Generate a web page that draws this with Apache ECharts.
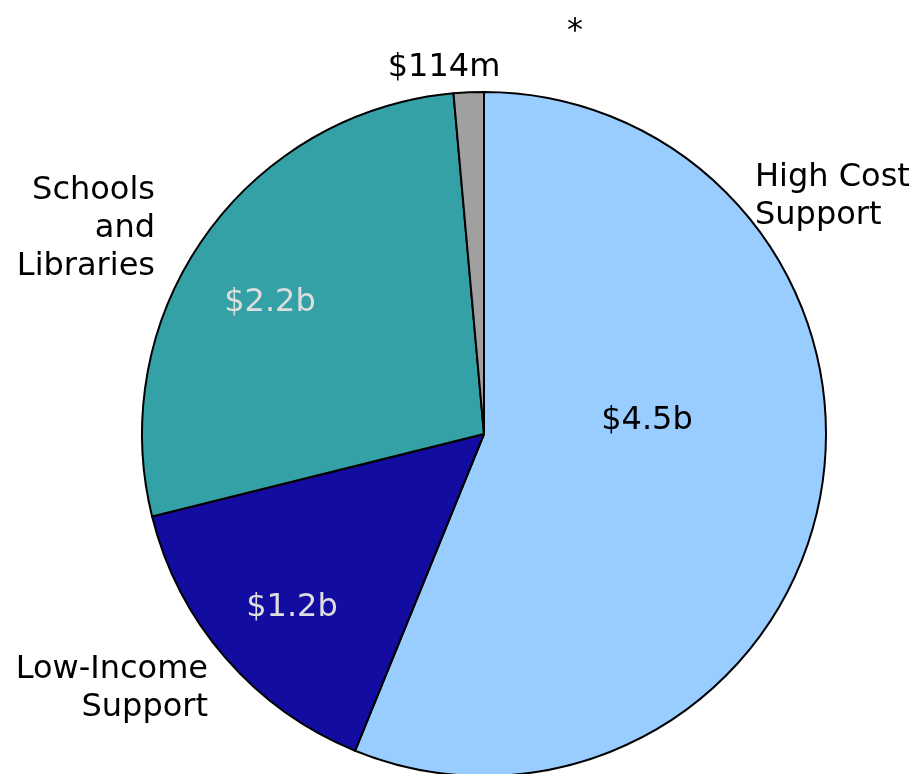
<!DOCTYPE html>
<html>
<head>
<meta charset="utf-8">
<script src="https://cdn.jsdelivr.net/npm/echarts@6/dist/echarts.min.js"></script>
<style>html,body{margin:0;padding:0;background:#fff}#c{width:914px;height:774px}</style>
</head>
<body>
<div id="c"></div>
<script>
const categories = ['High Cost\nSupport', 'Low-Income\nSupport', 'Schools\nand\nLibraries', '*'];
const values = [4.5, 1.2, 2.2, 0.114];
const valueLabels = ['$4.5b', '$1.2b', '$2.2b', '$114m'];
const colors = ['#99CCFF', '#120CA0', '#33A1A5', '#A0A0A0'];
const valueLabelColors = ['#000000', '#DDDDDD', '#DDDDDD', '#000000'];

// label placement (layout only)
const valuePos = [[647, 421, 'center'], [292, 608, 'center'], [270, 303, 'center'], [444, 68, 'center']];
const namePos = [[755, 197, 'left'], [208, 689, 'right'], [155, 229, 'right'], [575, 32, 'center']];

const FONT = 'DejaVu Sans';
const FS = 32;

const chart = echarts.init(document.getElementById('c'), null, {renderer: 'canvas'});
chart.setOption({
  backgroundColor: '#ffffff',
  animation: false,
  series: [
    {
      type: 'pie',
      center: [484, 434],
      radius: 342,
      startAngle: 90,
      clockwise: true,
      silent: true,
      data: categories.map((c, i) => ({
        name: c, value: values[i],
        itemStyle: {color: colors[i]},
        label: {color: valueLabelColors[i]}
      })),
      itemStyle: {borderColor: '#000', borderWidth: 2},
      label: {
        show: true, position: 'inside', overflow: 'none',
        formatter: p => valueLabels[p.dataIndex],
        fontFamily: FONT, fontSize: FS
      },
      labelLine: {show: false},
      labelLayout: p => ({x: valuePos[p.dataIndex][0], y: valuePos[p.dataIndex][1], align: valuePos[p.dataIndex][2], verticalAlign: 'middle'})
    },
    {
      type: 'pie',
      center: [484, 434],
      radius: 342,
      startAngle: 90,
      clockwise: true,
      silent: true,
      data: categories.map((c, i) => ({name: c, value: values[i]})),
      itemStyle: {color: 'rgba(0,0,0,0)', borderWidth: 0},
      label: {
        show: true, position: 'outside', overflow: 'none', width: 400,
        formatter: p => p.name,
        fontFamily: FONT, fontSize: FS, lineHeight: 38, color: '#000'
      },
      labelLine: {show: false},
      labelLayout: p => ({x: namePos[p.dataIndex][0], y: namePos[p.dataIndex][1], align: namePos[p.dataIndex][2], verticalAlign: 'middle'})
    }
  ]
});
</script>
</body>
</html>
